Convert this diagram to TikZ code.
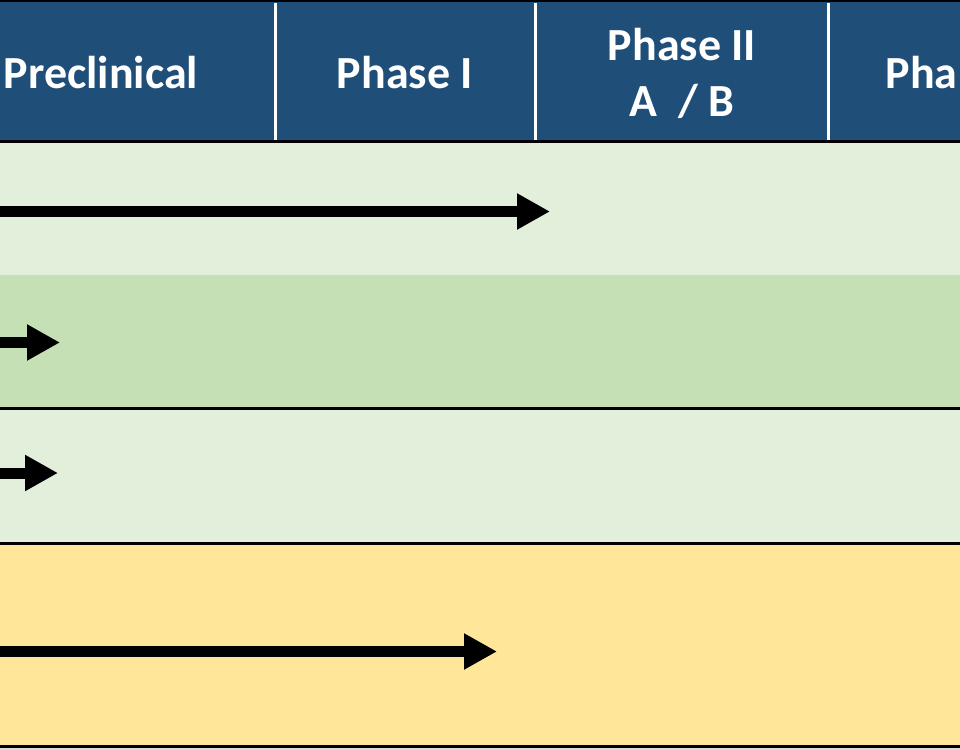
\documentclass[tikz,border=0pt]{standalone}
\usepackage{fontspec}
\setmainfont{Carlito}
\usetikzlibrary{arrows.meta}
\definecolor{hdrblue}{HTML}{1F4E79}
\definecolor{lightgreen}{HTML}{E2EFDA}
\definecolor{midgreen}{HTML}{C5E0B4}
\definecolor{paleyellow}{HTML}{FFE699}
\definecolor{edgegray}{HTML}{D9D9D9}
\tikzset{
  hdrtext/.style={text=white, font=\fontsize{23}{27}\selectfont\bfseries, inner sep=0pt, anchor=base},
  sepline/.style={draw=white, line width=1.3pt},
  rowline/.style={draw=black, line width=1.3pt},
  bigarrow/.style={draw=black, line width=5.5pt, -{Triangle[length=16.5pt, width=17pt]}}
}
\begin{document}
\begin{tikzpicture}[x=0.5pt, y=-0.5pt]
\useasboundingbox (0,0) rectangle (960,750);
% rows
\fill[hdrblue] (0,0) rectangle (960,141);
\fill[lightgreen] (0,141) rectangle (960,275);
\fill[midgreen] (0,275) rectangle (960,408);
\fill[lightgreen] (0,408) rectangle (960,543);
\fill[paleyellow] (0,543) rectangle (960,746);
\fill[edgegray] (0,746) rectangle (960,750);
% column separators
\draw[sepline] (275.5,3) -- (275.5,140);
\draw[sepline] (535.5,3) -- (535.5,140);
\draw[sepline] (828.5,3) -- (828.5,140);
% borders
\draw[rowline] (0,1) -- (960,1);
\draw[rowline, line width=1.6pt] (0,141.5) -- (960,141.5);
\draw[rowline] (0,408.5) -- (960,408.5);
\draw[rowline] (0,543.5) -- (960,543.5);
\draw[rowline] (0,746.5) -- (960,746.5);
% header texts
\node[hdrtext] (pre) at (101,88) {Preclinical};
\node[hdrtext] (p1) at (405,88) {Phase I};
\node[hdrtext] (p2a) at (682,60) {Phase II};
\node[hdrtext] (p2b) at (682,116) {A\ \ / B};
\node[hdrtext, anchor=base east] (p3) at (958,88) {Pha};
% arrows
\coordinate (s1) at (0,211.5);
\coordinate (e1) at (550,211.5);
\coordinate (s2) at (0,342.5);
\coordinate (e2) at (60,342.5);
\coordinate (s3) at (0,473);
\coordinate (e3) at (58,473);
\coordinate (s4) at (0,651.5);
\coordinate (e4) at (497,651.5);
\draw[bigarrow] (s1) -- (e1);
\draw[bigarrow] (s2) -- (e2);
\draw[bigarrow] (s3) -- (e3);
\draw[bigarrow] (s4) -- (e4);
\end{tikzpicture}
\end{document}
